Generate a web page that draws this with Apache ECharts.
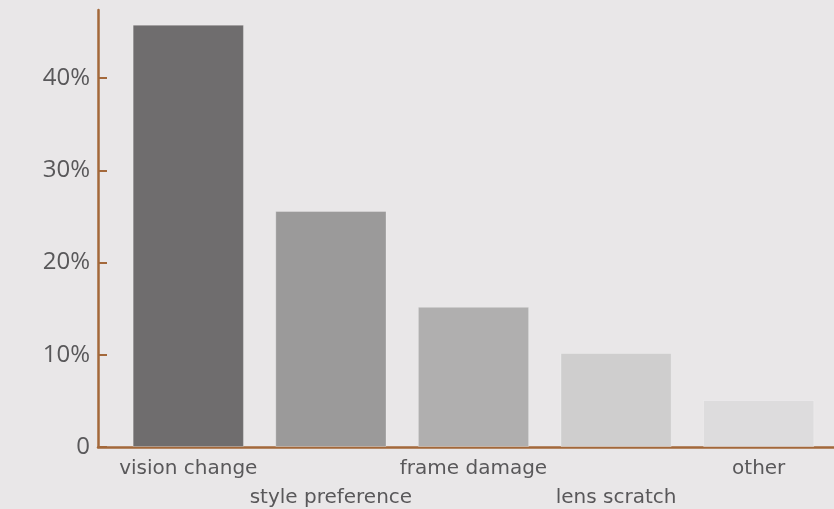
<!DOCTYPE html>
<html>
<head>
<meta charset="utf-8">
<script src="https://cdn.jsdelivr.net/npm/echarts@6/dist/echarts.min.js"></script>
<style>
  html, body { margin: 0; padding: 0; background: #e9e7e8; }
  #chart { width: 834px; height: 509px; }
</style>
</head>
<body>
<div id="chart"></div>
<script>
// data
const categories = ['vision change', 'style preference', 'frame damage', 'lens scratch', 'other'];
const shares = [45.8, 25.6, 15.2, 10.2, 5.1];
const barColors = ['#6f6d6e', '#9b9a9a', '#b0afaf', '#cfcece', '#dddcdd'];
const yTicks = [0, 10, 20, 30, 40];

const axisBrown = '#a3683a';
const textGrey = '#59585a';

const chart = echarts.init(document.getElementById('chart'));
const option = {
  backgroundColor: '#e9e7e8',
  animation: false,
  grid: [
    // axis frame
    { left: 98, right: 0, top: 10, bottom: 62, outerBoundsMode: 'none', containLabel: false },
    // bars
    { left: 117, right: 4, top: 10, bottom: 62, outerBoundsMode: 'none', containLabel: false }
  ],
  xAxis: [
    {
      gridIndex: 0, type: 'value', min: 0, max: 1,
      axisLine: { show: true, lineStyle: { color: axisBrown, width: 2.5 } },
      axisTick: { show: false }, axisLabel: { show: false }, splitLine: { show: false }
    },
    {
      gridIndex: 1, type: 'category', data: categories,
      axisLine: { show: false }, axisTick: { show: false },
      axisLabel: {
        interval: 0,
        color: textGrey,
        fontFamily: 'DejaVu Sans, sans-serif',
        fontWeight: 'normal',
        fontSize: 20,
        lineHeight: 29,
        margin: 7,
        formatter: (v, i) => (i % 2 ? '\n' + v : v)
      }
    }
  ],
  yAxis: [
    {
      gridIndex: 0, type: 'value', min: 0, max: 47.4, interval: 10,
      axisLine: { show: true, lineStyle: { color: axisBrown, width: 2.5 } },
      axisTick: { show: true, inside: true, length: 9, lineStyle: { color: axisBrown, width: 2 } },
      splitLine: { show: false },
      axisLabel: {
        color: textGrey,
        fontFamily: 'Open Sans, sans-serif',
        fontSize: 24,
        margin: 8,
        showMaxLabel: false,
        formatter: v => (yTicks.indexOf(v) < 0 ? '' : (v === 0 ? '0' : v + '%'))
      }
    },
    {
      gridIndex: 1, type: 'value', min: 0, max: 47.4, show: false
    }
  ],
  series: [
    {
      type: 'bar',
      xAxisIndex: 1,
      yAxisIndex: 1,
      barCategoryGap: '22%',
      data: shares.map((v, i) => ({
        value: v,
        itemStyle: { color: barColors[i], borderColor: 'rgba(255,255,255,0.25)', borderWidth: 1 }
      }))
    }
  ]
};
chart.setOption(option);
</script>
</body>
</html>
